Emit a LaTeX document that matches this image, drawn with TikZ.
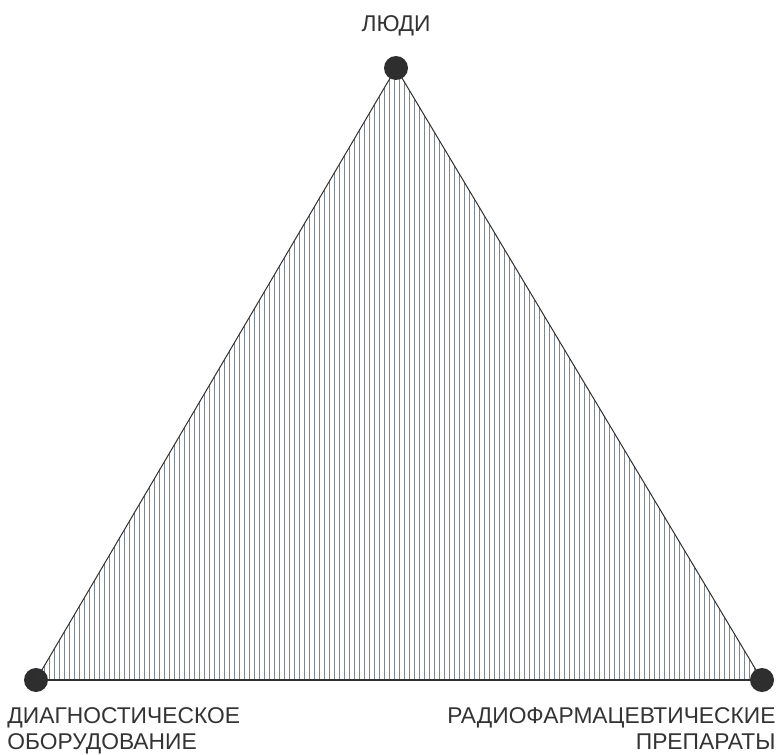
\documentclass[tikz,border=0pt]{standalone}
\usepackage{fontspec}
\setmainfont{Liberation Sans}
\definecolor{hatch}{HTML}{80868E}
\definecolor{edge}{HTML}{303030}
\definecolor{dot}{HTML}{2E2E2E}
\tikzset{px/.style={x=0.5pt,y=-0.5pt,line width=.5pt,font=\fontsize{11.4}{13.2}\selectfont},
  vertex/.style={circle,fill=dot,inner sep=0pt,minimum size=12pt},
  caption/.style={inner sep=0pt,text=black!80}}

\begin{document}
\begin{tikzpicture}[px]
  \useasboundingbox (0,0) rectangle (783,755);
  \begin{scope}
    \clip (36,680) -- (396,68) -- (762,680) -- cycle;
    \foreach \x in {39,44,...,760}{\draw[hatch] (\x,60) -- (\x,690);}
  \end{scope}
  \node[vertex] (people) at (396,68) {};
  \node[vertex] (equip) at (36,680) {};
  \node[vertex] (pharma) at (762,680) {};
  \draw[edge] (equip.center) -- (people.center) -- (pharma.center);
  \draw[edge,line width=.8pt] (pharma.center) -- (equip.center);
  \node[caption] (lpeople) at (396,26) {ЛЮДИ};
  \node[caption,align=left,anchor=north west] (lequip) at (7,707) {ДИАГНОСТИЧЕСКОЕ\\ОБОРУДОВАНИЕ};
  \node[caption,align=right,anchor=north east] (lpharma) at (776,707) {РАДИОФАРМАЦЕВТИЧЕСКИЕ\\ПРЕПАРАТЫ};
\end{tikzpicture}
\end{document}
